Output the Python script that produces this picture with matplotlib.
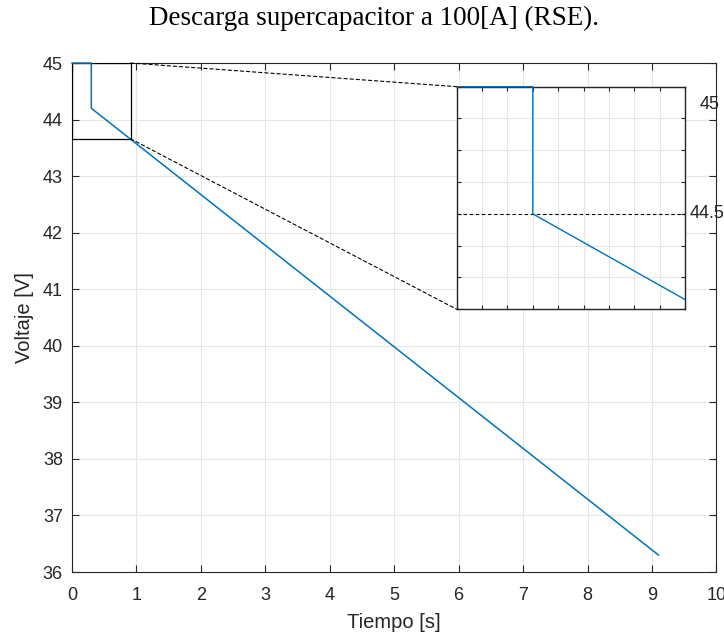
import matplotlib.pyplot as plt
from matplotlib.patches import Rectangle, ConnectionPatch
from matplotlib.transforms import Bbox, TransformedBbox

# data
tiempo = [0, 0.3, 0.3, 9.1]
voltaje = [45, 45, 44.2, 36.3]

# zoom region shown in the inset
zoom_x = [0, 0.91]
zoom_y = [43.66, 45]
inset_xlim = [0, 0.9]
inset_ylim = [43.6, 45]
inset_marks = [45, 44.2]
inset_texts = ['45', '44.5']
inset_text_y = [44.885, 44.2]

blue = '#0072BD'
axc = '#262626'
gridc = '#e6e6e6'

plt.rcParams['font.family'] = ['Liberation Sans', 'DejaVu Sans']

fig = plt.figure(figsize=(7.24, 6.36), dpi=100)
ax = fig.add_axes([0.0994, 0.1006, 0.8902, 0.8003])
ax.plot(tiempo, voltaje, color=blue, lw=1.1, clip_on=False, zorder=4)
ax.set_xlim(0, 10)
ax.set_ylim(36, 45)
ax.set_xticks(range(0, 11))
ax.set_yticks(range(36, 46))
ax.grid(True, color=gridc, lw=0.8)
ax.set_axisbelow(True)
ax.tick_params(direction='in', top=True, right=True, length=5, width=0.8,
               color=axc, labelcolor=axc, labelsize=13)
ax.tick_params(axis='x', pad=11)
ax.tick_params(axis='y', pad=6.5)
for s in ax.spines.values():
    s.set_color(axc)
    s.set_linewidth(0.8)
ax.set_xlabel('Tiempo [s]', fontsize=14.5, color=axc, labelpad=6)
ax.set_ylabel('Voltaje [V]', fontsize=14.5, color=axc, labelpad=6)

fig.text(374 / 724, 1 - 18 / 636, 'Descarga supercapacitor a 100[A] (RSE).',
         family='Liberation Serif', fontsize=19.5, ha='center', va='center')

# zoom rectangle on main axes
ax.add_patch(Rectangle((zoom_x[0], zoom_y[0]), zoom_x[1] - zoom_x[0],
                       zoom_y[1] - zoom_y[0], fill=False, ec='k', lw=0.9, zorder=3))

# inset
axi = fig.add_axes([0.6308, 0.5137, 0.3153, 0.35])
ln, = axi.plot(tiempo, voltaje, color=blue, lw=1.0, zorder=4)
ln.set_clip_box(TransformedBbox(Bbox([[0, -0.02], [1, 1.02]]), axi.transAxes))
axi.set_xlim(inset_xlim)
axi.set_ylim(inset_ylim)
axi.set_xticks([i / 10 for i in range(10)])
axi.set_yticks([43.6 + 0.2 * i for i in range(8)])
axi.set_xticklabels([])
axi.set_yticklabels([])
axi.grid(True, color=gridc, lw=0.8)
axi.set_axisbelow(True)
axi.tick_params(direction='in', top=True, right=True, length=3, width=0.8, color=axc)
for s in axi.spines.values():
    s.set_color(axc)
    s.set_linewidth(1.0)
axi.axhline(inset_marks[1], color='k', ls=(0, (3, 2.5)), lw=0.8)
tr = axi.get_yaxis_transform()
axi.text(1.066, inset_text_y[0], inset_texts[0], transform=tr, fontsize=13,
         color=axc, va='center', ha='left', clip_on=False)
axi.text(1.022, inset_text_y[1], inset_texts[1], transform=tr, fontsize=13,
         color=axc, va='center', ha='left', clip_on=False)

# connector lines
for (px, py), (qx, qy) in [((zoom_x[1], zoom_y[1]), (0, 1)), ((zoom_x[1], zoom_y[0]), (0, 0))]:
    cp = ConnectionPatch(xyA=(px, py), coordsA=ax.transData,
                         xyB=(qx, qy), coordsB=axi.transAxes,
                         color='k', ls=(0, (3, 2.5)), lw=0.8)
    fig.add_artist(cp)

fig.savefig('out.png', dpi=100)
